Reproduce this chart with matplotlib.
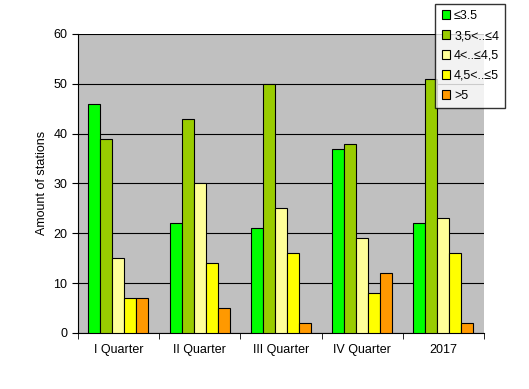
import numpy as np
import matplotlib
matplotlib.use('Agg')
import matplotlib.pyplot as plt

plt.rcParams['font.family'] = ['Liberation Sans', 'DejaVu Sans']

categories = ['I Quarter', 'II Quarter', 'III Quarter', 'IV Quarter', '2017']
series_names = ['≤3.5', '3,5<..≤4', '4<..≤4,5', '4,5<..≤5', '>5']
values = [
    [46, 22, 21, 37, 22],
    [39, 43, 50, 38, 51],
    [15, 30, 25, 19, 23],
    [7, 14, 16, 8, 16],
    [7, 5, 2, 12, 2],
]
colors = ['#00FF00', '#99CC00', '#FFFF99', '#FFFF00', '#FF9900']

fig = plt.figure(figsize=(5.29, 3.89), dpi=100)
ax = fig.add_axes([0.147, 0.144, 0.768, 0.769])
ax.set_facecolor('#C0C0C0')

x = np.arange(len(categories))
w = 0.148
for i, (name, vals) in enumerate(zip(series_names, values)):
    ax.bar(x + (i - 2) * w, vals, w, color=colors[i], edgecolor='black',
           linewidth=0.8, label=name, zorder=3)

ax.set_ylim(0, 60)
ax.set_xlim(-0.5, len(categories) - 0.5)
ax.set_yticks(range(0, 61, 10))
ax.yaxis.grid(True, color='black', linewidth=0.8, zorder=1)
ax.set_axisbelow(True)

ax.set_xticks(x)
ax.set_xticklabels(categories, fontsize=9)
ax.set_xticks(np.arange(-0.5, len(categories)), minor=True)
ax.tick_params(axis='x', which='major', length=0, pad=8)
ax.tick_params(axis='x', which='minor', length=4, direction='out', color='black')
ax.tick_params(axis='y', labelsize=9, length=4, direction='out')
ax.set_ylabel('Amount of stations', fontsize=9)

for s in ['top', 'right']:
    ax.spines[s].set_visible(False)
ax.spines['left'].set_color('black')
ax.spines['bottom'].set_color('black')

leg = fig.legend(loc='upper left', bbox_to_anchor=(0.823, 0.99), fontsize=9,
                 frameon=True, fancybox=False, edgecolor='black',
                 handlelength=0.7, handleheight=0.7, handletextpad=0.3,
                 labelspacing=0.63, borderpad=0.5, borderaxespad=0)
leg.get_frame().set_linewidth(1.0)

fig.savefig('out.png', dpi=100)
